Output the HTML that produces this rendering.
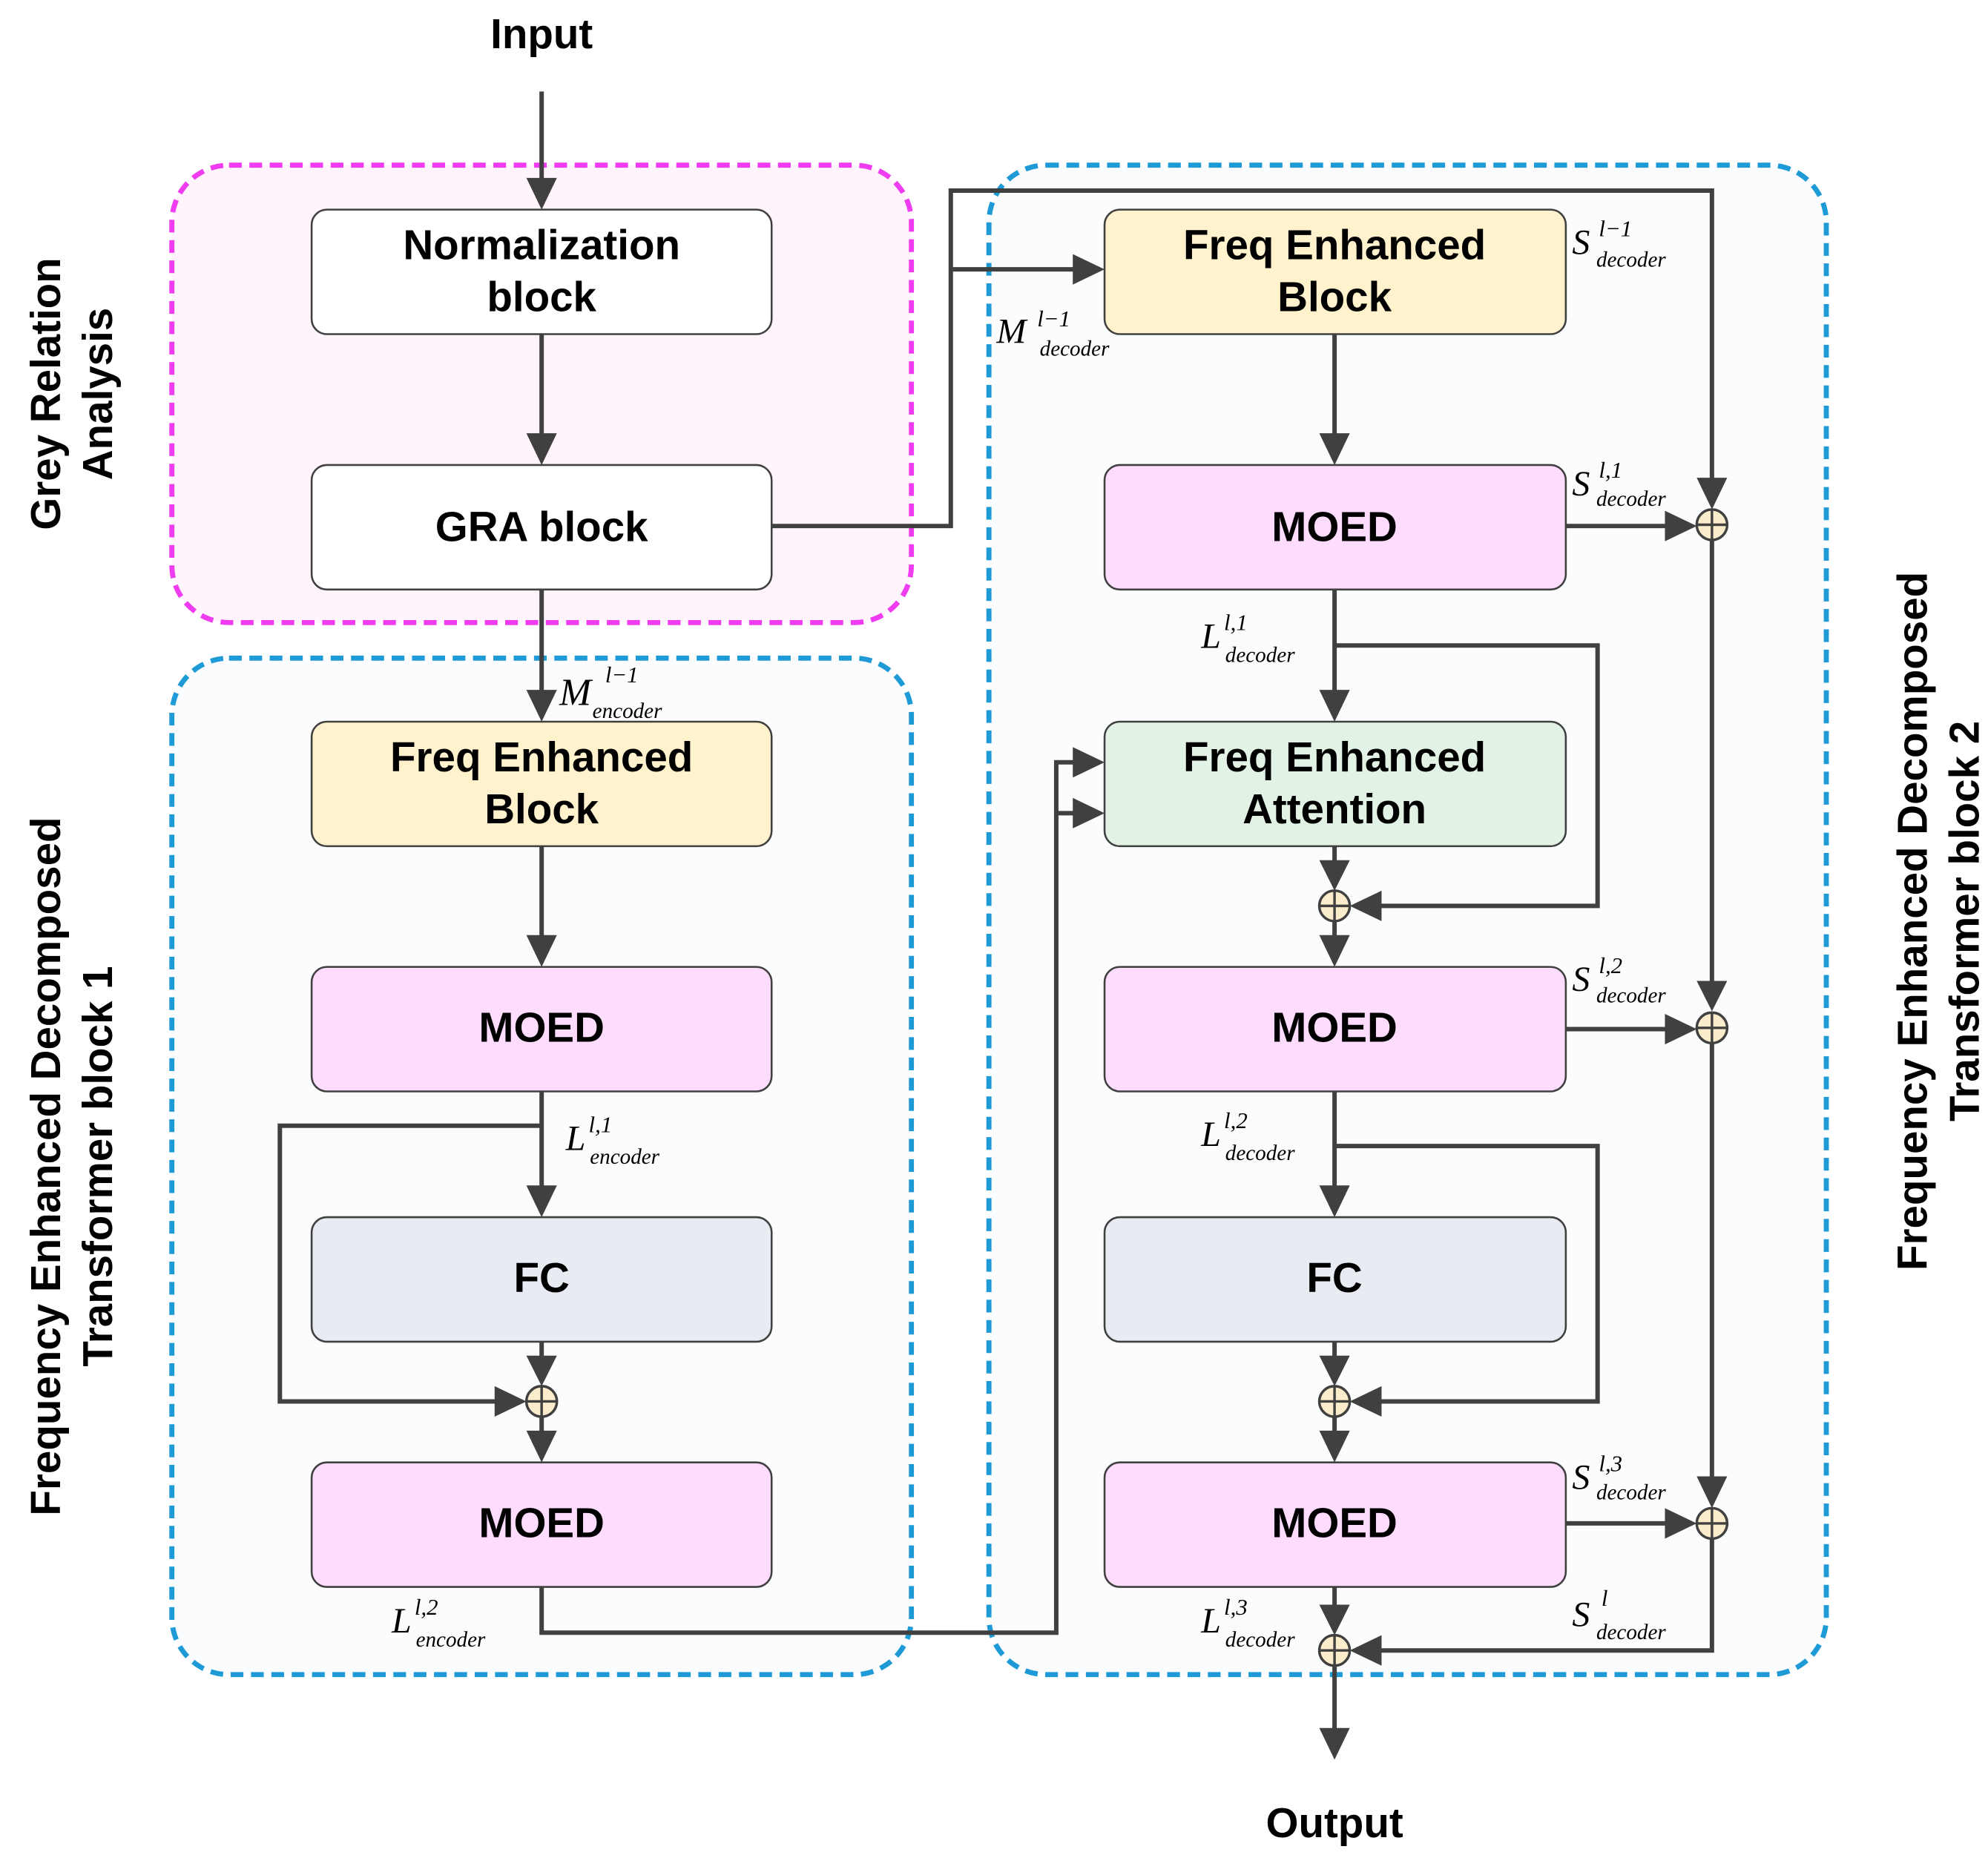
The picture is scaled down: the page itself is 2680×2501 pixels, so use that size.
<!DOCTYPE html>
<html><head><meta charset="utf-8"><style>
html,body{margin:0;padding:0;background:#fff}
svg{display:block}
.t{font-family:"Liberation Sans",sans-serif;font-weight:bold;font-size:33px;fill:#000;text-anchor:middle}
.m{font-family:"Liberation Serif",serif;font-style:italic;fill:#000}
.ln{stroke:#404040;stroke-width:3.5;fill:none}
.b{stroke:#404040;stroke-width:1.5}
.pc{fill:#fbeccb;stroke:#404040;stroke-width:2}
</style></head><body>
<svg width="2680" height="2501" viewBox="0 0 1564 1460" xmlns="http://www.w3.org/2000/svg">
<rect x="135" y="130" width="582" height="360" rx="45" fill="#fff4fc" stroke="#f03cf0" stroke-width="4" stroke-dasharray="10,6"/>
<rect x="135" y="518" width="582" height="800" rx="45" fill="#fbfcfe" stroke="#1e9ad6" stroke-width="4" stroke-dasharray="10,6"/>
<rect x="778" y="130" width="659" height="1188" rx="45" fill="#fbfcfe" stroke="#1e9ad6" stroke-width="4" stroke-dasharray="10,6"/>

<rect class="b" x="245" y="165" width="362" height="98" rx="12" fill="#fff"/>
<rect class="b" x="245" y="366" width="362" height="98" rx="12" fill="#fff"/>
<rect class="b" x="245" y="568" width="362" height="98" rx="12" fill="#fff2cc"/>
<rect class="b" x="245" y="761" width="362" height="98" rx="12" fill="#fddcfd"/>
<rect class="b" x="245" y="958" width="362" height="98" rx="12" fill="#e8ecf2"/>
<rect class="b" x="245" y="1151" width="362" height="98" rx="12" fill="#fddcfd"/>
<rect class="b" x="869" y="165" width="363" height="98" rx="12" fill="#fff2cc"/>
<rect class="b" x="869" y="366" width="363" height="98" rx="12" fill="#fddcfd"/>
<rect class="b" x="869" y="568" width="363" height="98" rx="12" fill="#e2f3e6"/>
<rect class="b" x="869" y="761" width="363" height="98" rx="12" fill="#fddcfd"/>
<rect class="b" x="869" y="958" width="363" height="98" rx="12" fill="#e8ecf2"/>
<rect class="b" x="869" y="1151" width="363" height="98" rx="12" fill="#fddcfd"/>

<text class="t" x="426" y="204">Normalization</text><text class="t" x="426" y="245">block</text>
<text class="t" x="426" y="426">GRA block</text>
<text class="t" x="426" y="607">Freq Enhanced</text><text class="t" x="426" y="648">Block</text>
<text class="t" x="426" y="820">MOED</text>
<text class="t" x="426" y="1017">FC</text>
<text class="t" x="426" y="1210">MOED</text>
<text class="t" x="1050" y="204">Freq Enhanced</text><text class="t" x="1050" y="245">Block</text>
<text class="t" x="1050" y="426">MOED</text>
<text class="t" x="1050" y="607">Freq Enhanced</text><text class="t" x="1050" y="648">Attention</text>
<text class="t" x="1050" y="820">MOED</text>
<text class="t" x="1050" y="1017">FC</text>
<text class="t" x="1050" y="1210">MOED</text>

<text class="t" x="426" y="38">Input</text>
<text class="t" x="1050" y="1446">Output</text>
<text class="t" transform="translate(47,310) rotate(-90)">Grey Relation</text>
<text class="t" transform="translate(88,310) rotate(-90)">Analysis</text>
<text class="t" transform="translate(47,918) rotate(-90)">Frequency Enhanced Decomposed</text>
<text class="t" transform="translate(88,918) rotate(-90)">Transformer block 1</text>
<text class="t" transform="translate(1516,725) rotate(-90)">Frequency Enhanced Decomposed</text>
<text class="t" transform="translate(1557,725) rotate(-90)">Transformer block 2</text>

<g class="ln">
<path d="M426 72V150"/>
<path d="M426 263V350"/>
<path d="M426 464V552"/>
<path d="M426 666V745"/>
<path d="M426 859V942"/>
<path d="M426 886H220V1103H398"/>
<path d="M426 1056V1078"/>
<path d="M426 1115V1135"/>
<path d="M426 1249V1285H831V600H853"/>
<path d="M831 640H853"/>
<path d="M607 414H748V150H1347V386"/>
<path d="M748 212H853"/>
<path d="M1050 263V350"/>
<path d="M1232 414H1320"/>
<path d="M1050 464V552"/>
<path d="M1050 508H1257V713H1078"/>
<path d="M1050 666V688"/>
<path d="M1050 725V745"/>
<path d="M1232 810H1320"/>
<path d="M1347 425V781"/>
<path d="M1050 859V942"/>
<path d="M1050 902H1257V1103H1078"/>
<path d="M1050 1056V1078"/>
<path d="M1050 1115V1135"/>
<path d="M1232 1199H1320"/>
<path d="M1347 821V1172"/>
<path d="M1347 1211V1299H1078"/>
<path d="M1050 1249V1272"/>
<path d="M1050 1311V1362"/>
</g>
<g fill="#404040">
<path d="M414 140L438 140L426 165Z"/>
<path d="M414 341L438 341L426 366Z"/>
<path d="M414 543L438 543L426 568Z"/>
<path d="M414 736L438 736L426 761Z"/>
<path d="M414 933L438 933L426 958Z"/>
<path d="M414 1067L438 1067L426 1091Z"/>
<path d="M414 1126L438 1126L426 1151Z"/>
<path d="M389 1091L389 1115L414 1103Z"/>
<path d="M844 588L844 612L869 600Z"/>
<path d="M844 628L844 652L869 640Z"/>
<path d="M844 200L844 224L869 212Z"/>
<path d="M1038 341L1062 341L1050 366Z"/>
<path d="M1038 543L1062 543L1050 568Z"/>
<path d="M1038 677L1062 677L1050 701Z"/>
<path d="M1038 736L1062 736L1050 761Z"/>
<path d="M1038 933L1062 933L1050 958Z"/>
<path d="M1038 1067L1062 1067L1050 1091Z"/>
<path d="M1038 1126L1062 1126L1050 1151Z"/>
<path d="M1038 1263L1062 1263L1050 1287Z"/>
<path d="M1038 1360L1062 1360L1050 1385Z"/>
<path d="M1087 701L1087 725L1062 713Z"/>
<path d="M1087 1091L1087 1115L1062 1103Z"/>
<path d="M1087 1287L1087 1311L1062 1299Z"/>
<path d="M1310 402L1310 426L1335 414Z"/>
<path d="M1310 798L1310 822L1335 810Z"/>
<path d="M1310 1187L1310 1211L1335 1199Z"/>
<path d="M1335 376L1359 376L1347 401Z"/>
<path d="M1335 772L1359 772L1347 796Z"/>
<path d="M1335 1162L1359 1162L1347 1187Z"/>
</g>
<g>
<circle class="pc" cx="426" cy="1103" r="12"/><path class="ln" style="stroke-width:2" d="M414 1103H438M426 1091V1115"/>
<circle class="pc" cx="1050" cy="713" r="12"/><path class="ln" style="stroke-width:2" d="M1038 713H1062M1050 701V725"/>
<circle class="pc" cx="1050" cy="1103" r="12"/><path class="ln" style="stroke-width:2" d="M1038 1103H1062M1050 1091V1115"/>
<circle class="pc" cx="1050" cy="1299" r="12"/><path class="ln" style="stroke-width:2" d="M1038 1299H1062M1050 1287V1311"/>
<circle class="pc" cx="1347" cy="413" r="12"/><path class="ln" style="stroke-width:2" d="M1335 413H1359M1347 401V425"/>
<circle class="pc" cx="1347" cy="809" r="12"/><path class="ln" style="stroke-width:2" d="M1335 809H1359M1347 797V821"/>
<circle class="pc" cx="1347" cy="1199" r="12"/><path class="ln" style="stroke-width:2" d="M1335 1199H1359M1347 1187V1211"/>
</g>
<g class="m">
<text x="1237" y="200" font-size="28">S</text><text x="1258" y="186" font-size="18">l−1</text><text x="1256" y="210" font-size="17">decoder</text>
<text x="784" y="270" font-size="28">M</text><text x="816" y="257" font-size="18">l−1</text><text x="818" y="280" font-size="17">decoder</text>
<text x="1237" y="390" font-size="28">S</text><text x="1258" y="376" font-size="18">l,1</text><text x="1256" y="398" font-size="17">decoder</text>
<text x="945" y="510" font-size="28">L</text><text x="963" y="496" font-size="18">l,1</text><text x="964" y="521" font-size="17">decoder</text>
<text x="1237" y="780" font-size="28">S</text><text x="1258" y="766" font-size="18">l,2</text><text x="1256" y="789" font-size="17">decoder</text>
<text x="945" y="902" font-size="28">L</text><text x="963" y="888" font-size="18">l,2</text><text x="964" y="913" font-size="17">decoder</text>
<text x="1237" y="1172" font-size="28">S</text><text x="1258" y="1158" font-size="18">l,3</text><text x="1256" y="1180" font-size="17">decoder</text>
<text x="945" y="1285" font-size="28">L</text><text x="963" y="1271" font-size="18">l,3</text><text x="964" y="1296" font-size="17">decoder</text>
<text x="1237" y="1280" font-size="28">S</text><text x="1260" y="1264" font-size="18">l</text><text x="1256" y="1290" font-size="17">decoder</text>
<text x="440" y="555" font-size="30">M</text><text x="476" y="537" font-size="18">l−1</text><text x="466" y="565" font-size="17">encoder</text>
<text x="445" y="905" font-size="28">L</text><text x="463" y="891" font-size="18">l,1</text><text x="464" y="916" font-size="17">encoder</text>
<text x="308" y="1285" font-size="28">L</text><text x="326" y="1271" font-size="18">l,2</text><text x="327" y="1296" font-size="17">encoder</text>
</g>
</svg>
</body></html>
